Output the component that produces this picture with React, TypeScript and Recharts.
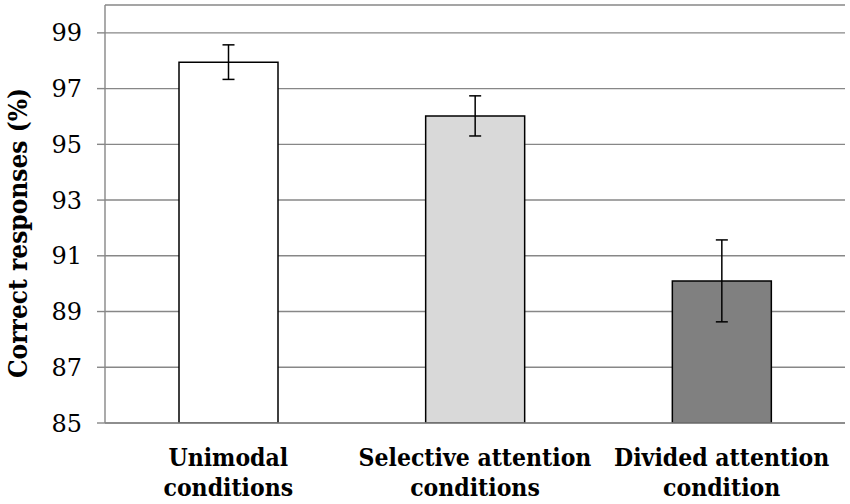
import { Bar, BarChart, CartesianGrid, Cell, ErrorBar, XAxis, YAxis } from "recharts";

// Correct responses per condition
const conditionLine1 = ["Unimodal", "Selective attention", "Divided attention"];
const conditionLine2 = ["conditions", "conditions", "condition"];
const correctPct = [97.95, 96.02, 90.1];
const errorPct = [0.62, 0.72, 1.47];
const barFills = ["#ffffff", "#d9d9d9", "#808080"];
const yTicks = [85, 87, 89, 91, 93, 95, 97, 99];
const boundaryTicks = [0, 1, 2, 3];

const data = conditionLine1.map((name, i) => ({
  name,
  line2: conditionLine2[i],
  value: correctPct[i],
  err: errorPct[i],
}));

const SERIF = "'DejaVu Serif'";
const SERIF_COND = "'DejaVu Serif Condensed', 'DejaVu Serif'";
const GRID = "#878787";

function CategoryTick({ x, y, payload, index }: any) {
  return (
    <text
      x={x}
      y={y}
      textAnchor="middle"
      style={{ fontFamily: SERIF_COND, fontWeight: "bold", fontSize: 24.5 }}
      fill="#000"
    >
      <tspan x={x} dy={35}>{payload.value}</tspan>
      <tspan x={x} dy={30}>{conditionLine2[index]}</tspan>
    </text>
  );
}

function YLabel({ viewBox }: any) {
  const cx = viewBox.x + 18;
  const cy = viewBox.y + viewBox.height / 2 + 19;
  return (
    <text
      x={cx}
      y={cy}
      transform={`rotate(-90, ${cx}, ${cy})`}
      textAnchor="middle"
      dominantBaseline="central"
      style={{ fontFamily: SERIF_COND, fontWeight: "bold", fontSize: 26 }}
      fill="#000"
    >
      Correct responses (%)
    </text>
  );
}

export default function App() {
  return (
    <div style={{ position: "absolute", left: 0, top: 0, width: 850, height: 504, background: "#fff" }}>
      <BarChart
        width={850}
        height={504}
        data={data}
        margin={{ top: 5, right: 5, bottom: 0, left: 0 }}
        barCategoryGap="30%"
      >
        <CartesianGrid vertical={false} stroke={GRID} strokeWidth={1.4} />
        <XAxis
          xAxisId="bounds"
          type="number"
          domain={[0, 3]}
          ticks={boundaryTicks}
          height={0}
          axisLine={false}
          tick={false}
          tickSize={8}
          tickLine={{ stroke: GRID, strokeWidth: 1.4 }}
        />
        <XAxis
          dataKey="name"
          height={81}
          axisLine={{ stroke: GRID, strokeWidth: 1.4 }}
          tickLine={false}
          tick={<CategoryTick />}
          interval={0}
        />
        <YAxis
          width={105}
          domain={[85, 100]}
          ticks={yTicks}
          allowDataOverflow
          axisLine={{ stroke: GRID, strokeWidth: 1.4 }}
          tickLine={{ stroke: GRID, strokeWidth: 1.4 }}
          tickSize={8}
          tickMargin={15}
          tick={{ fontSize: 24, fill: "#000", style: { fontFamily: SERIF } }}
          label={<YLabel />}
        />
        <Bar dataKey="value" stroke="#000" strokeWidth={1.5} isAnimationActive={false}>
          {data.map((d, i) => (
            <Cell key={d.name} fill={barFills[i]} />
          ))}
          <ErrorBar dataKey="err" width={6} stroke="#000" strokeWidth={1.5} direction="y" />
        </Bar>
      </BarChart>
    </div>
  );
}
